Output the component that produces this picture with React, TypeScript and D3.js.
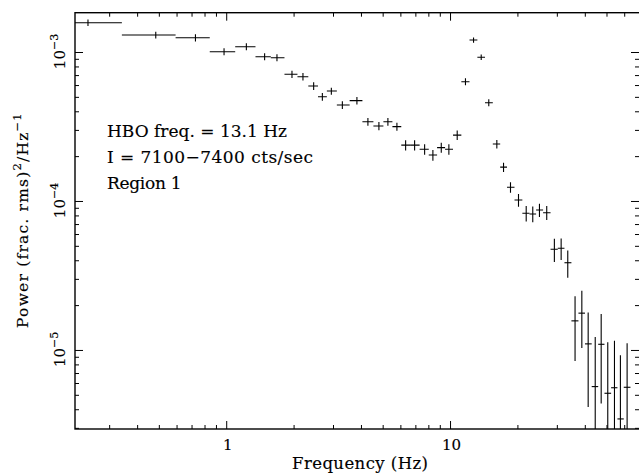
import React from "react";
import * as d3 from "d3";

// Frequency (Hz) of each power-spectrum point
const freqs = [
  0.24, 0.482, 0.725, 0.973, 1.224, 1.477, 1.677, 1.957, 2.191, 2.446,
  2.675, 2.934, 3.286, 3.817, 4.274, 4.786, 5.25, 5.76, 6.3, 6.91,
  7.66, 8.34, 9.09, 9.83, 10.71, 11.66, 12.67, 13.71, 14.82, 16.1,
  17.25, 18.53, 20.12, 21.78, 23.3, 24.96, 26.9, 29.1, 31.2, 33.4,
  36.0, 38.6, 41.2, 44.3, 47.1, 50.4, 54.0, 57.4, 61.5,
];
// Power (frac. rms)^2/Hz
const power = [
  1.585e-3, 1.31e-3, 1.257e-3, 1.012e-3, 1.094e-3, 9.37e-4, 9.23e-4, 7.14e-4, 6.88e-4, 5.96e-4,
  5.05e-4, 5.51e-4, 4.44e-4, 4.75e-4, 3.43e-4, 3.21e-4, 3.43e-4, 3.18e-4, 2.39e-4, 2.39e-4,
  2.24e-4, 2.05e-4, 2.3e-4, 2.24e-4, 2.79e-4, 6.37e-4, 1.213e-3, 9.29e-4, 4.6e-4, 2.43e-4,
  1.7e-4, 1.245e-4, 1.023e-4, 8.34e-5, 8.24e-5, 8.77e-5, 8.41e-5, 4.78e-5, 4.85e-5, 3.88e-5,
  1.58e-5, 1.78e-5, 1.107e-5, 5.72e-6, 1.1e-5, 5.16e-6, 5.62e-6, 3.47e-6, 5.66e-6,
];
// 1-sigma errors on power
const sigma = [
  8e-5, 7e-5, 7e-5, 5.5e-5, 6e-5, 5e-5, 5e-5, 4e-5, 4e-5, 3.5e-5,
  3e-5, 3e-5, 2.7e-5, 2.8e-5, 2.1e-5, 2e-5, 2.1e-5, 2e-5, 1.9e-5, 1.9e-5,
  1.8e-5, 1.7e-5, 1.8e-5, 1.8e-5, 2e-5, 3.5e-5, 5e-5, 4e-5, 2.5e-5, 1.6e-5,
  1.2e-5, 1e-5, 1e-5, 1e-5, 1e-5, 9e-6, 9e-6, 8.5e-6, 8e-6, 8e-6,
  7.3e-6, 7.4e-6, 6.9e-6, 6.6e-6, 6.6e-6, 6.2e-6, 6e-6, 5.8e-6, 5.5e-6,
];
const firstBinLow = 0.125;
const yMajorTicks = [1e-3, 1e-4, 1e-5];
const yTickExps = ["−3", "−4", "−5"];
const xMajorLabels = [1, 10];
const annotations = ["HBO freq. = 13.1 Hz", "I = 7100−7400 cts/sec", "Region 1"];
const annotationWidths = [180, 206, 74.5];

const W = 639, H = 473;
const L = 75, R = 640, T = 12.7, B = 429;
const FONT = "'DejaVu Serif', serif";
const TS = { stroke: "#000", strokeWidth: 0.15 };

export default function App() {
  const x = d3.scaleLog().domain([0.21, 69.5]).range([L, R - 1]);
  const y = d3.scaleLog().domain([2.97e-6, 1.85e-3]).range([B, T]);

  const edges: number[] = [firstBinLow];
  for (let i = 0; i < freqs.length - 1; i++) edges.push(Math.sqrt(freqs[i] * freqs[i + 1]));
  const n = freqs.length;
  edges.push(freqs[n - 1] * Math.sqrt(freqs[n - 1] / freqs[n - 2]));

  const xTicks = x.ticks();
  const yTicks = y.ticks();
  const isMajor = (v: number) => Math.abs(Math.log10(v) - Math.round(Math.log10(v))) < 1e-6;

  const yc = (v: number) => (v <= 0 ? B + 50 : y(v));

  return (
    <svg width={W} height={H} style={{ position: "absolute", left: 0, top: 0, background: "#fff" }}>
      <defs>
        <clipPath id="plotclip">
          <rect x={L} y={T} width={R - L} height={B - T} />
        </clipPath>
      </defs>
      <rect x={0} y={0} width={W} height={H} fill="#fff" />
      {/* frame */}
      <rect x={L} y={T} width={R - L} height={B - T} fill="none" stroke="#000" strokeWidth={1.4} />
      {/* x ticks */}
      {xTicks.map((v, i) => {
        const len = isMajor(v) ? 8 : 4;
        const px = x(v);
        return (
          <g key={"xt" + i} stroke="#000" strokeWidth={1}>
            <line x1={px} x2={px} y1={B} y2={B - len} />
            <line x1={px} x2={px} y1={T} y2={T + len} />
          </g>
        );
      })}
      {yTicks.map((v, i) => {
        const len = isMajor(v) ? 8 : 4;
        const py = y(v);
        return (
          <g key={"yt" + i} stroke="#000" strokeWidth={1}>
            <line x1={L} x2={L + len} y1={py} y2={py} />
            <line x1={R - 1} x2={R - 1 - len} y1={py} y2={py} />
          </g>
        );
      })}
      {/* x labels */}
      {xMajorLabels.map((v) => (
        <text key={"xl" + v} x={x(v) + 1} y={450} textAnchor="middle" fontFamily={FONT} fontSize={15} {...TS}>
          {v}
        </text>
      ))}
      <text x={360} y={469} textAnchor="middle" fontFamily={FONT} fontSize={16.5} textLength={136} {...TS}>
        Frequency (Hz)
      </text>
      {/* y labels */}
      {yMajorTicks.map((v, i) => (
        <text
          key={"yl" + i}
          transform={`translate(65,${y(v) - 1}) rotate(-90)`}
          textAnchor="middle"
          fontFamily={FONT}
          fontSize={15}
          {...TS}
        >
          10
          <tspan fontSize={11} dy={-7}>{yTickExps[i]}</tspan>
        </text>
      ))}
      <text
        transform="translate(28,220) rotate(-90)"
        textAnchor="middle"
        fontFamily={FONT}
        fontSize={15.5}
        letterSpacing={1.2}
        {...TS}
      >
        Power (frac. rms)
        <tspan fontSize={11.5} dy={-7}>2</tspan>
        <tspan dy={7}>/Hz</tspan>
        <tspan fontSize={11.5} dy={-7}>−1</tspan>
      </text>
      {/* annotations */}
      {annotations.map((s, i) => (
        <text
          key={"an" + i}
          x={107}
          y={137.3 + i * 26}
          fontFamily={FONT}
          fontSize={17}
          textLength={annotationWidths[i]}
          {...TS}
        >
          {s}
        </text>
      ))}
      {/* data */}
      <g clipPath="url(#plotclip)" stroke="#000" strokeWidth={1.1}>
        {freqs.map((f, i) => {
          const px = x(f);
          const py = y(power[i]);
          return (
            <g key={"p" + i}>
              <line x1={x(edges[i])} x2={x(edges[i + 1])} y1={py} y2={py} />
              <line x1={px} x2={px} y1={yc(power[i] + sigma[i])} y2={yc(power[i] - sigma[i])} />
            </g>
          );
        })}
      </g>
    </svg>
  );
}
